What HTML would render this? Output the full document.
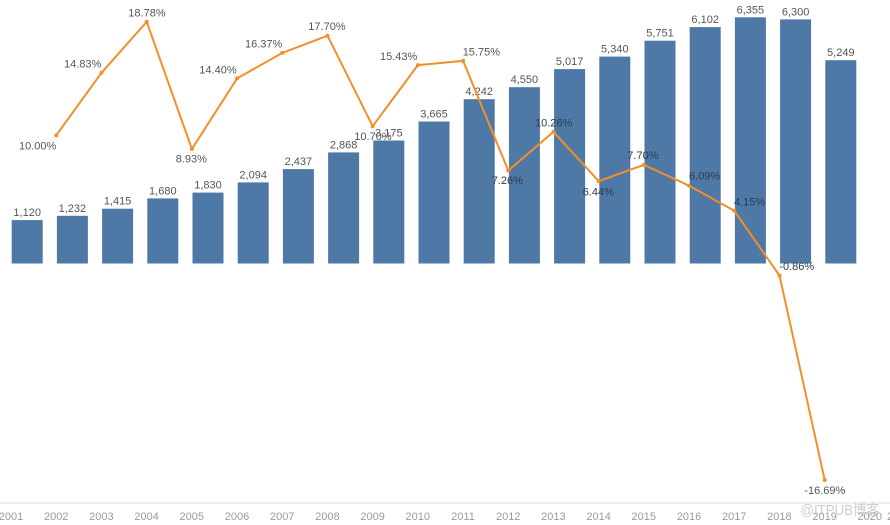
<!DOCTYPE html>
<html>
<head>
<meta charset="utf-8">
<style>
html,body{margin:0;padding:0;background:#fff;}
svg{display:block;}
text{font-family:"Liberation Sans","Noto Sans CJK SC",sans-serif;}
</style>
</head>
<body>
<svg width="890" height="525" viewBox="0 0 890 525" xmlns="http://www.w3.org/2000/svg">
<rect width="890" height="525" fill="#fff"/>
<!-- bars -->
<g fill="#4e78a6">
<rect x="11.7" y="220.1" width="31" height="43.4"/>
<rect x="56.9" y="215.8" width="31" height="47.7"/>
<rect x="102.1" y="208.7" width="31" height="54.8"/>
<rect x="147.3" y="198.4" width="31" height="65.1"/>
<rect x="192.5" y="192.6" width="31" height="70.9"/>
<rect x="237.7" y="182.4" width="31" height="81.1"/>
<rect x="282.9" y="169.1" width="31" height="94.4"/>
<rect x="328.1" y="152.4" width="31" height="111.1"/>
<rect x="373.3" y="140.5" width="31" height="123.0"/>
<rect x="418.5" y="121.5" width="31" height="142.0"/>
<rect x="463.7" y="99.2" width="31" height="164.3"/>
<rect x="508.9" y="87.2" width="31" height="176.3"/>
<rect x="554.1" y="69.1" width="31" height="194.4"/>
<rect x="599.3" y="56.6" width="31" height="206.9"/>
<rect x="644.5" y="40.7" width="31" height="222.8"/>
<rect x="689.7" y="27.1" width="31" height="236.4"/>
<rect x="734.9" y="17.3" width="31" height="246.2"/>
<rect x="780.1" y="19.4" width="31" height="244.1"/>
<rect x="825.3" y="60.2" width="31" height="203.3"/>
</g>
<!-- bar labels -->
<g font-size="11" fill="#555" text-anchor="middle">
<text x="27.2" y="216.1">1,120</text>
<text x="72.4" y="211.8">1,232</text>
<text x="117.6" y="204.7">1,415</text>
<text x="162.8" y="194.4">1,680</text>
<text x="208.0" y="188.6">1,830</text>
<text x="253.2" y="178.4">2,094</text>
<text x="298.4" y="165.1">2,437</text>
<text x="343.6" y="148.4">2,868</text>
<text x="388.8" y="136.5">3,175</text>
<text x="434.0" y="117.5">3,665</text>
<text x="479.2" y="95.2">4,242</text>
<text x="524.4" y="83.2">4,550</text>
<text x="569.6" y="65.1">5,017</text>
<text x="614.8" y="52.6">5,340</text>
<text x="660.0" y="36.7">5,751</text>
<text x="705.2" y="23.1">6,102</text>
<text x="750.4" y="13.3">6,355</text>
<text x="795.6" y="15.4">6,300</text>
<text x="840.8" y="56.2">5,249</text>
</g>
<!-- axis -->
<line x1="0" y1="503" x2="890" y2="503" stroke="#e4e4e4" stroke-width="1.2"/>
<g font-size="11" fill="#9a9a9a" text-anchor="middle">
<text x="11" y="520">2001</text>
<text x="56.2" y="520">2002</text>
<text x="101.4" y="520">2003</text>
<text x="146.6" y="520">2004</text>
<text x="191.8" y="520">2005</text>
<text x="237" y="520">2006</text>
<text x="282.2" y="520">2007</text>
<text x="327.4" y="520">2008</text>
<text x="372.6" y="520">2009</text>
<text x="417.8" y="520">2010</text>
<text x="463" y="520">2011</text>
<text x="508.2" y="520">2012</text>
<text x="553.4" y="520">2013</text>
<text x="598.6" y="520">2014</text>
<text x="643.8" y="520">2015</text>
<text x="689" y="520">2016</text>
<text x="734.2" y="520">2017</text>
<text x="779.4" y="520">2018</text>
<text x="824.6" y="520">2019</text>
<text x="869.8" y="520">2020</text>
<text x="890" y="520">2</text>
</g>
<!-- line -->
<polyline fill="none" stroke="#f28e2b" stroke-width="2" stroke-linejoin="round"
points="56.3,135.2 101.5,72.8 146.7,21.8 191.9,149.0 237.1,78.4 282.3,52.9 327.5,35.7 372.7,126.2 417.9,65.1 463.1,60.9 508.3,170.6 553.5,131.8 598.7,181.2 643.9,164.9 689.1,185.7 734.3,210.8 779.5,275.5 824.7,480.0"/>
<g fill="#f28e2b">
<circle cx="56.3" cy="135.2" r="2"/><circle cx="101.5" cy="72.8" r="2"/><circle cx="146.7" cy="21.8" r="2"/>
<circle cx="191.9" cy="149.0" r="2"/><circle cx="237.1" cy="78.4" r="2"/><circle cx="282.3" cy="52.9" r="2"/>
<circle cx="327.5" cy="35.7" r="2"/><circle cx="372.7" cy="126.2" r="2"/><circle cx="417.9" cy="65.1" r="2"/>
<circle cx="463.1" cy="60.9" r="2"/><circle cx="508.3" cy="170.6" r="2"/><circle cx="553.5" cy="131.8" r="2"/>
<circle cx="598.7" cy="181.2" r="2"/><circle cx="643.9" cy="164.9" r="2"/><circle cx="689.1" cy="185.7" r="2"/>
<circle cx="734.3" cy="210.8" r="2"/><circle cx="779.5" cy="275.5" r="2"/><circle cx="824.7" cy="480.0" r="2"/>
</g>
<!-- line labels -->
<g font-size="11" fill="#555">
<text x="19" y="149.7">10.00%</text>
<text x="64" y="67.3">14.83%</text>
<text x="128.3" y="16.7">18.78%</text>
<text x="175.7" y="162.3">8.93%</text>
<text x="199.3" y="73.3">14.40%</text>
<text x="245" y="47.3">16.37%</text>
<text x="308.3" y="30">17.70%</text>
<text x="354.3" y="140">10.70%</text>
<text x="380" y="60">15.43%</text>
<text x="462.7" y="55.7">15.75%</text>
</g>
<g font-size="11" fill="#2f3b4c">
<text x="491.7" y="184">7.26%</text>
<text x="535" y="126.7">10.26%</text>
<text x="582.7" y="195.7">6.44%</text>
<text x="627.3" y="159">7.70%</text>
<text x="689" y="179.7">6.09%</text>
<text x="734" y="205.7">4.15%</text>
<text x="779.3" y="270">-0.86%</text>
</g>
<text x="804.3" y="494" font-size="11" fill="#555">-16.69%</text>
<!-- watermark -->
<text x="800.5" y="515" font-size="15" fill="#c4c4c4" fill-opacity="0.85" textLength="79" lengthAdjust="spacingAndGlyphs">@ITPUB博客</text>
</svg>
</body>
</html>
